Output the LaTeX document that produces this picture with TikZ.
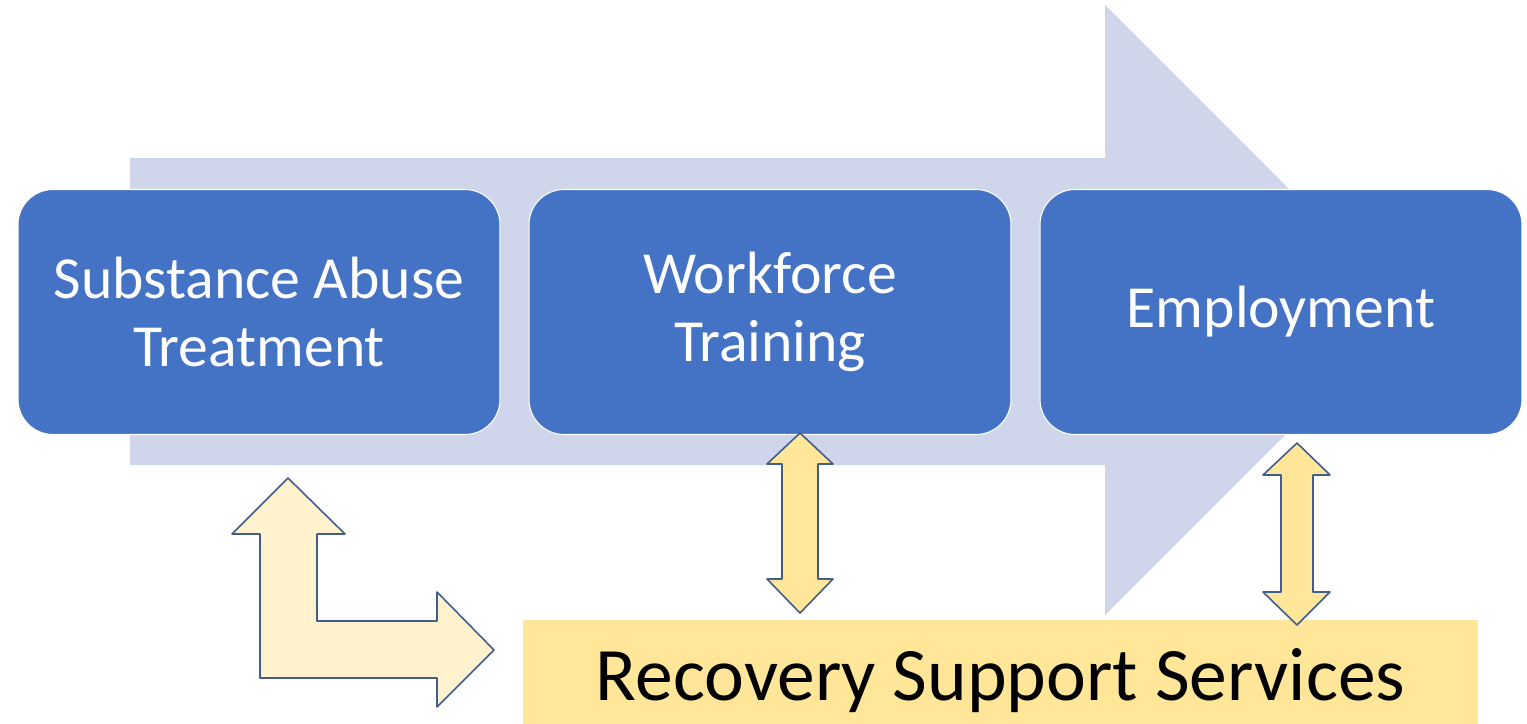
\documentclass[tikz,border=0pt]{standalone}
\usepackage{fontspec}
\setmainfont{Carlito}
\definecolor{flowgray}{RGB}{207,213,234}
\definecolor{stageblue}{RGB}{68,114,196}
\definecolor{supyellow}{RGB}{255,230,153}
\definecolor{paleyellow}{RGB}{255,242,204}
\definecolor{edgeblue}{RGB}{66,92,140}
\begin{document}
\begin{tikzpicture}[line join=round,x=0.02cm,y=-0.02cm]
			\tikzset{stage/.style={rectangle,rounded corners=0.7cm,fill=stageblue,draw=white,line width=0.6pt,
					minimum width=9.64cm,minimum height=4.9cm,text=white,align=center,font=\fontsize{34}{39}\selectfont},
				blockarrow/.style={draw=edgeblue,line width=0.9pt}}
			\useasboundingbox (0,0) rectangle (1527,723);
			% big arrow behind the stages
			\fill[flowgray] (130,158)--(1105,158)--(1105,5)--(1410,310)--(1105,615)--(1105,465)--(130,465)--cycle;
			\node[stage] (sat) at (259,312) {Substance Abuse\\Treatment};
			\node[stage] (wft) at (770,312) {Workforce\\Training};
			\node[stage] (emp) at (1281,312) {Employment};
			% support bar
			\node[fill=supyellow,minimum width=19.1cm,minimum height=2.4cm,font=\fontsize{43}{49}\selectfont,anchor=north]
				(rss) at (1000.5,620) {Recovery Support Services};
			% arrows
			\draw[blockarrow,fill=paleyellow] (288,478)--(345,534)--(317,534)--(317,621)--(437,621)--(437,592)--(494,650)
				--(437,707)--(437,678)--(260,678)--(260,534)--(232,534)--cycle;
			\draw[blockarrow,fill=supyellow] (800,433)--(833,464)--(818,464)--(818,579)--(833,579)--(800,613)
				--(767,579)--(782,579)--(782,464)--(767,464)--cycle;
			\draw[blockarrow,fill=supyellow] (1297,443)--(1330,475)--(1313,475)--(1313,592)--(1330,592)--(1297,625)
				--(1263,592)--(1281,592)--(1281,475)--(1263,475)--cycle;
		\end{tikzpicture}
\end{document}
